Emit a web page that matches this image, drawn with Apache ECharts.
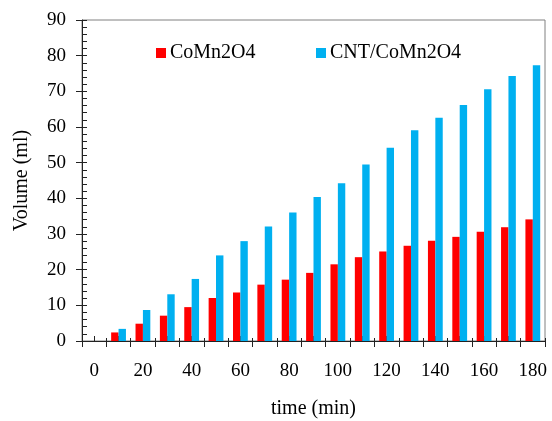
<!DOCTYPE html>
<html>
<head>
<meta charset="utf-8">
<script src="https://cdn.jsdelivr.net/npm/echarts@6/dist/echarts.min.js"></script>
<style>
  html, body { margin: 0; padding: 0; background: #fff; }
  #chart { width: 552px; height: 421px; }
</style>
</head>
<body>
<div id="chart"></div>
<script>
// Time points (min)
var times = ['0', '10', '20', '30', '40', '50', '60', '70', '80', '90',
             '100', '110', '120', '130', '140', '150', '160', '170', '180'];
// Gas volume collected (ml)
var coMn2O4 = [0, 2.4, 4.85, 7.1, 9.5, 12.05, 13.6, 15.8, 17.2, 19.1,
               21.5, 23.5, 25.1, 26.7, 28.1, 29.2, 30.6, 31.9, 34.1];
var cntCoMn2O4 = [0, 3.4, 8.7, 13.1, 17.4, 24.0, 28.0, 32.1, 36.0, 40.4,
                  44.2, 49.5, 54.2, 59.1, 62.6, 66.2, 70.6, 74.3, 77.3];
var seriesNames = ['CoMn2O4', 'CNT/CoMn2O4'];
var yMin = 0, yMax = 90, yStep = 10;

var FONT = '"Liberation Serif", "Times New Roman", serif';
var AXIS_DARK = '#222';

var chart = echarts.init(document.getElementById('chart'), null, { renderer: 'canvas' });

function xLabelEveryOther(i) { return i % 2 === 0; }

var option = {
  animation: false,
  backgroundColor: '#fff',
  grid: {
    left: 82, right: 7, top: 20, bottom: 80,
    show: true, borderColor: '#808080', borderWidth: 1,
    containLabel: false,
    outerBoundsMode: 'none'
  },
  legend: [
    {
      data: [seriesNames[0]], left: 151, top: 38,
      icon: 'rect', itemWidth: 10, itemHeight: 10,
      textStyle: { fontFamily: FONT, fontSize: 20, color: '#000', padding: [0, 0, 0, -1] }
    },
    {
      data: [seriesNames[1]], left: 311, top: 38,
      icon: 'rect', itemWidth: 10, itemHeight: 10,
      textStyle: { fontFamily: FONT, fontSize: 20, color: '#000', padding: [0, 0, 0, -1] }
    }
  ],
  xAxis: [
    {
      type: 'category', data: times, position: 'bottom', boundaryGap: true,
      name: 'time (min)', nameLocation: 'middle', nameGap: 58,
      nameTextStyle: { fontFamily: FONT, fontSize: 20, color: '#000' },
      axisLine: { lineStyle: { color: AXIS_DARK, width: 1 } },
      axisTick: { show: true, interval: 0, length: 6, lineStyle: { color: AXIS_DARK } },
      axisLabel: { interval: 0, formatter: function (v, i) { return xLabelEveryOther(i) ? v : ''; },
                   fontFamily: FONT, fontSize: 19, color: '#000', margin: 21 },
      splitLine: { show: false }
    },
    {
      // inner half of the boundary ticks
      type: 'category', data: times, position: 'bottom', boundaryGap: true,
      axisLine: { show: false },
      axisTick: { show: true, inside: true, interval: 0, length: 3, lineStyle: { color: AXIS_DARK } },
      axisLabel: { show: false }, splitLine: { show: false }
    },
    {
      // short ticks at each time point
      type: 'category', data: times, position: 'bottom', boundaryGap: true,
      axisLine: { show: false },
      axisTick: { show: true, inside: true, interval: 0, alignWithLabel: true, length: 5,
                  lineStyle: { color: AXIS_DARK } },
      axisLabel: { show: false }, splitLine: { show: false }
    }
  ],
  yAxis: [
    {
      type: 'value', min: yMin, max: yMax, interval: yStep, position: 'left',
      name: 'Volume (ml)', nameLocation: 'middle', nameGap: 50, nameRotate: 90,
      nameTextStyle: { fontFamily: FONT, fontSize: 20, color: '#000' },
      axisLine: { show: true, lineStyle: { color: AXIS_DARK, width: 1 } },
      axisTick: { show: true, length: 6, lineStyle: { color: AXIS_DARK } },
      axisLabel: { fontFamily: FONT, fontSize: 19, color: '#000', margin: 16 },
      splitLine: { show: false }
    },
    {
      // inner ticks with minor divisions
      type: 'value', min: yMin, max: yMax, interval: yStep, position: 'left',
      axisLine: { show: false },
      axisTick: { show: true, inside: true, length: 5, lineStyle: { color: AXIS_DARK } },
      minorTick: { show: true, splitNumber: 5, length: 5, lineStyle: { color: AXIS_DARK } },
      axisLabel: { show: false }, splitLine: { show: false }
    }
  ],
  series: [
    {
      name: seriesNames[0], type: 'bar', data: coMn2O4,
      xAxisIndex: 0, yAxisIndex: 0,
      barWidth: 7.4, barGap: '0%',
      itemStyle: { color: '#FF0000' }
    },
    {
      name: seriesNames[1], type: 'bar', data: cntCoMn2O4,
      xAxisIndex: 0, yAxisIndex: 0,
      barWidth: 7.4, barGap: '0%',
      itemStyle: { color: '#00B0F0' }
    }
  ]
};

chart.setOption(option);
</script>
</body>
</html>
